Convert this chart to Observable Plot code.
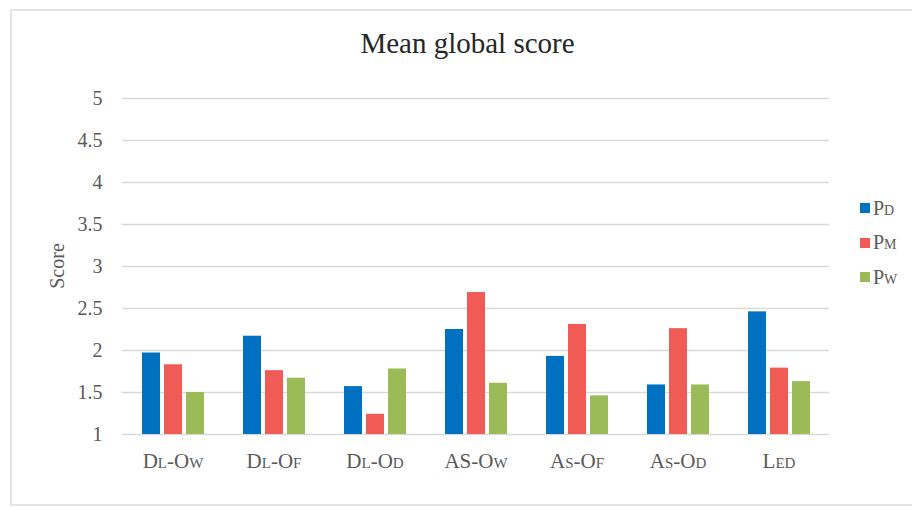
<!DOCTYPE html>
<html>
<head>
<meta charset="utf-8">
<script src="https://cdn.jsdelivr.net/npm/d3@7"></script>
<script src="https://cdn.jsdelivr.net/npm/@observablehq/plot@0.6"></script>
<style>
  html, body { margin: 0; padding: 0; background: #fff; }
  #wrap { position: relative; width: 912px; height: 507px; overflow: hidden; font-family: "Liberation Serif", "DejaVu Serif", serif; }
  #frame { position: absolute; left: 10px; top: 9px; width: 930px; height: 497px; border: 2px solid #e4e4e4; box-sizing: border-box; }
  #title { position: absolute; left: 0; width: 935px; top: 26px; text-align: center; font-size: 29px; color: #262626; line-height: 34px; }
  #chart { position: absolute; left: 0; top: 0; }
  #chart svg text { font-family: "Liberation Serif", "DejaVu Serif", serif; fill: #595959; }
  #chart [aria-label^="fx-axis"] text { font-variant: small-caps; font-size: 21px; }
  #chart [aria-label^="y-axis"] text { font-size: 20px; }
  #ylabel { position: absolute; left: 57px; top: 266px; transform: translate(-50%, -50%) rotate(-90deg); font-size: 20px; color: #595959; white-space: nowrap; }
  #legend { position: absolute; left: 860px; top: 196px; }
  .row { position: absolute; left: 0; height: 24px; display: flex; align-items: center; white-space: nowrap; font-size: 20px; color: #595959; font-variant: small-caps; }
  .sw { width: 10px; height: 10px; margin-right: 3px; }
</style>
</head>
<body>
<div id="wrap">
  <div id="frame"></div>
  <div id="title">Mean global score</div>
  <div id="chart"></div>
  <div id="ylabel">Score</div>
  <div id="legend"></div>
</div>
<script>
// Study conditions along the x axis (small caps applied in CSS)
const categories = ["Dl-Ow", "Dl-Of", "Dl-Od", "AS-Ow", "As-Of", "As-Od", "Led"];
// Participant groups
const seriesNames = ["Pd", "Pm", "Pw"];
const seriesColors = ["#0070C0", "#F15B55", "#9BBB59"];
// Mean global score per condition, one array per group
const pdScores = [1.97, 2.17, 1.57, 2.25, 1.93, 1.59, 2.46];
const pmScores = [1.83, 1.76, 1.24, 2.69, 2.31, 2.26, 1.79];
const pwScores = [1.50, 1.67, 1.78, 1.61, 1.46, 1.59, 1.63];
// Score axis
const yTicks = [1, 1.5, 2, 2.5, 3, 3.5, 4, 4.5, 5];
const scoreFloor = 1;

const seriesValues = [pdScores, pmScores, pwScores];
const rows = [];
categories.forEach((c, i) => {
  seriesNames.forEach((s, j) => {
    rows.push({category: c, series: s, value: seriesValues[j][i]});
  });
});

const chart = Plot.plot({
  width: 912,
  height: 480,
  marginLeft: 122,
  marginRight: 83,
  marginTop: 98,
  marginBottom: 46,
  facet: {data: rows, x: "category"},
  fx: {domain: categories, padding: 0, axis: "bottom", label: null, tickSize: 0, tickPadding: 19},
  x: {domain: seriesNames, paddingInner: 0.2, paddingOuter: 0.845, axis: null},
  y: {domain: [1, 5], ticks: yTicks, tickSize: 0, tickPadding: 20, label: null, tickFormat: d => String(d)},
  color: {domain: seriesNames, range: seriesColors},
  marks: [
    Plot.ruleY(yTicks, {stroke: "#d9d9d9", strokeWidth: 1.3}),
    Plot.barY(rows, {x: "series", y1: () => scoreFloor, y2: "value", fill: "series"})
  ]
});
document.getElementById("chart").appendChild(chart);

// Legend built from the same series names and colours
const legend = document.getElementById("legend");
seriesNames.forEach((s, j) => {
  const row = document.createElement("div");
  row.className = "row";
  row.style.top = (j * 34.5) + "px";
  const sw = document.createElement("div");
  sw.className = "sw";
  sw.style.background = seriesColors[j];
  const t = document.createElement("span");
  t.textContent = s;
  row.appendChild(sw);
  row.appendChild(t);
  legend.appendChild(row);
});
</script>
</body>
</html>
